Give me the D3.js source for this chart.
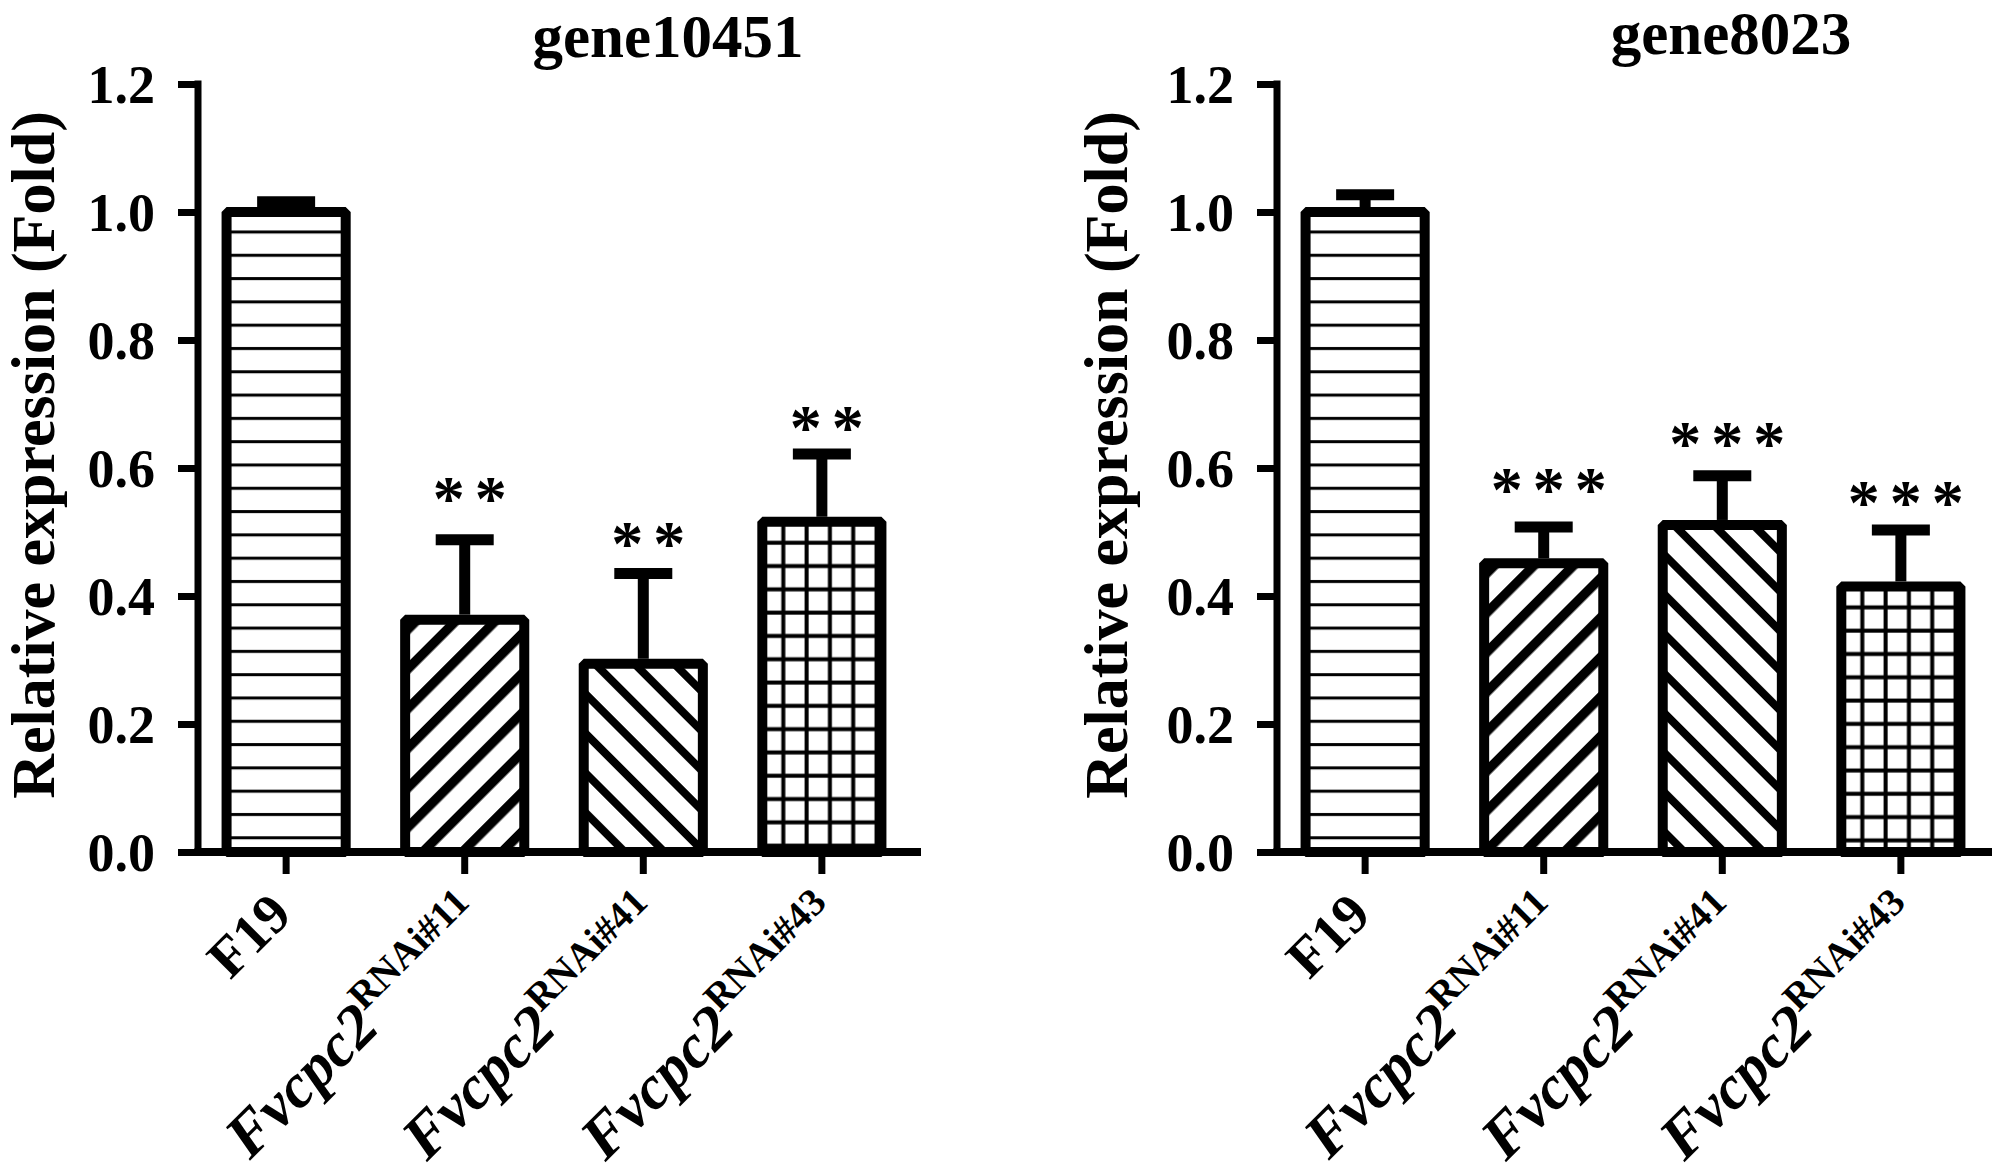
<!DOCTYPE html>
<html>
<head>
<meta charset="utf-8">
<script src="https://cdn.jsdelivr.net/npm/d3@7"></script>
<style>
  html, body { margin: 0; padding: 0; background: #fff; }
  svg { display: block; }
  text { font-family: "Liberation Serif", "Times New Roman", serif; fill: #000; }
</style>
</head>
<body>
<svg id="chart" width="2000" height="1175"></svg>
<script>
// ---------- data ----------
const categories = ["F19", "#11", "#41", "#43"];
const labelMain = ["F19", "Fvcpc2", "Fvcpc2", "Fvcpc2"];
const labelSup = ["", "RNAi#11", "RNAi#41", "RNAi#43"];
const patterns = ["hlines", "diagUp", "diagDown", "grid"];
const yTicks = [0.0, 0.2, 0.4, 0.6, 0.8, 1.0, 1.2];

const titles = ["gene10451", "gene8023"];
const gene10451Mean = [1.0, 0.363, 0.294, 0.516];
const gene10451ErrTop = [1.016, 0.488, 0.435, 0.622];
const gene10451Stars = ["", "**", "**", "**"];
const gene10451StarLevel = [null, 0.54, 0.47, 0.652];
const gene8023Mean = [1.0, 0.451, 0.511, 0.415];
const gene8023ErrTop = [1.027, 0.508, 0.588, 0.503];
const gene8023Stars = ["", "***", "***", "***"];
const gene8023StarLevel = [null, 0.555, 0.627, 0.534];

const yLabel = "Relative expression (Fold)";

// ---------- layout ----------
const svg = d3.select("#chart");
const defs = svg.append("defs");
const y = d3.scaleLinear().domain([0, 1.2]).range([852, 84]);

const panels = [
  { title: titles[0], mean: gene10451Mean, err: gene10451ErrTop, stars: gene10451Stars, starLv: gene10451StarLevel,
    axisX: 198, axisEnd: 921, titleX: 668, titleY: 57, labelX: 54 },
  { title: titles[1], mean: gene8023Mean, err: gene8023ErrTop, stars: gene8023Stars, starLv: gene8023StarLevel,
    axisX: 1277, axisEnd: 1992, titleX: 1731, titleY: 54, labelX: 1127 }
];

function makePattern(id, type, x0, y0) {
  const p = defs.append("pattern").attr("id", id).attr("patternUnits", "userSpaceOnUse");
  if (type === "hlines") {
    p.attr("width", 50).attr("height", 23.3)
     .attr("patternTransform", `translate(${x0},${y0})`);
    p.append("rect").attr("width", 50).attr("height", 23.3).attr("fill", "#fff");
    p.append("rect").attr("x", 0).attr("y", 18.5).attr("width", 50).attr("height", 3).attr("fill", "#000");
  } else if (type === "grid") {
    p.attr("width", 23.3).attr("height", 23.3)
     .attr("patternTransform", `translate(${x0},${y0})`);
    p.append("rect").attr("width", 23.3).attr("height", 23.3).attr("fill", "#fff");
    p.append("rect").attr("x", 19).attr("y", 0).attr("width", 4).attr("height", 23.3).attr("fill", "#000");
    p.append("rect").attr("x", 0).attr("y", 19).attr("width", 23.3).attr("height", 4).attr("fill", "#000");
  } else {
    const sp = 28, sw = type === "diagUp" ? 9.5 : 8;
    const ang = type === "diagUp" ? 45 : -45;
    p.attr("width", sp).attr("height", sp)
     .attr("patternTransform", `translate(${x0},${y0}) rotate(${ang})`);
    p.append("rect").attr("width", sp).attr("height", sp).attr("fill", "#fff");
    p.append("rect").attr("x", 4).attr("y", 0).attr("width", sw).attr("height", sp).attr("fill", "#000");
  }
}

panels.forEach((pn, pi) => {
  const g = svg.append("g");
  const x = d3.scaleBand().domain(categories)
    .range([pn.axisX, pn.axisX + 712]).paddingInner(0.333).paddingOuter(0.16);

  // title
  g.append("text").attr("x", pn.titleX).attr("y", pn.titleY)
    .attr("text-anchor", "middle").attr("font-size", 61).attr("font-weight", "bold")
    .text(pn.title);

  // y label
  g.append("text")
    .attr("transform", `translate(${pn.labelX},455) rotate(-90)`)
    .attr("text-anchor", "middle").attr("font-size", 62).attr("font-weight", "bold")
    .text(yLabel);

  // bars
  categories.forEach((c, i) => {
    const bx = x(c), by = y(pn.mean[i]);
    const id = `pat-${pi}-${i}`;
    makePattern(id, patterns[i], bx, by);
    g.append("rect")
      .attr("x", bx).attr("y", by)
      .attr("width", x.bandwidth()).attr("height", y(0) - by)
      .attr("fill", `url(#${id})`)
      .attr("stroke", "#000").attr("stroke-width", 10)
      .attr("stroke-linejoin", "bevel");
    const cx = bx + x.bandwidth() / 2;
    // error bar
    g.append("line").attr("x1", cx).attr("x2", cx)
      .attr("y1", by - 5).attr("y2", y(pn.err[i]))
      .attr("stroke", "#000").attr("stroke-width", 11);
    g.append("line").attr("x1", cx - 29).attr("x2", cx + 29)
      .attr("y1", y(pn.err[i])).attr("y2", y(pn.err[i]))
      .attr("stroke", "#000").attr("stroke-width", 11);
    // stars
    if (pn.stars[i]) {
      g.append("text").attr("x", cx + 10).attr("y", y(pn.starLv[i]) + 14)
        .attr("text-anchor", "middle").attr("font-size", 64).attr("font-weight", "bold")
        .attr("letter-spacing", 10)
        .text(pn.stars[i]);
    }
  });

  // y axis
  const yAxis = d3.axisLeft(y).tickValues(yTicks).tickFormat(d3.format(".1f"))
    .tickSize(20).tickPadding(23);
  const ya = g.append("g").attr("transform", `translate(${pn.axisX},0)`).call(yAxis);
  ya.select(".domain").remove();
  ya.selectAll(".tick line").attr("stroke", "#000").attr("stroke-width", 7);
  ya.selectAll(".tick text").attr("font-size", 54).attr("font-weight", "bold")
    .attr("font-family", "Liberation Serif").attr("fill", "#000").attr("dy", "0.34em");
  g.append("line").attr("x1", pn.axisX).attr("x2", pn.axisX)
    .attr("y1", y(1.2) - 3.5).attr("y2", y(0) + 3.5)
    .attr("stroke", "#000").attr("stroke-width", 7);

  // x axis
  g.append("line").attr("x1", pn.axisX - 3.5).attr("x2", pn.axisEnd)
    .attr("y1", y(0)).attr("y2", y(0))
    .attr("stroke", "#000").attr("stroke-width", 8);
  categories.forEach((c, i) => {
    const cx = x(c) + x.bandwidth() / 2;
    g.append("line").attr("x1", cx).attr("x2", cx)
      .attr("y1", y(0)).attr("y2", y(0) + 22)
      .attr("stroke", "#000").attr("stroke-width", 7);
    const t = g.append("text")
      .attr("transform", i === 0 ? `translate(${cx + 8},917) rotate(-45)` : `translate(${cx + 24},922) rotate(-45)`)
      .attr("text-anchor", "end").attr("font-weight", "bold");
    if (i === 0) {
      t.attr("font-size", 56).text(labelMain[i]);
    } else {
      t.append("tspan").attr("font-size", 62).attr("font-style", "italic").text(labelMain[i]);
      t.append("tspan").attr("font-size", 39).attr("dy", -25).text(labelSup[i]);
    }
  });
});
</script>
</body>
</html>
